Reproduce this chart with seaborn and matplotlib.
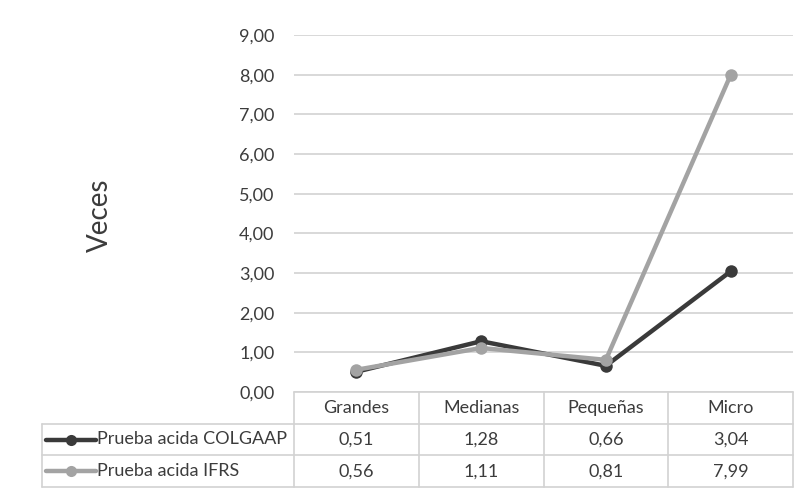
import matplotlib
matplotlib.use("Agg")
import matplotlib.pyplot as plt
import seaborn as sns
import pandas as pd
from matplotlib.ticker import FuncFormatter

categories = ["Grandes", "Medianas", "Pequeñas", "Micro"]
series_names = ["Prueba acida COLGAAP", "Prueba acida IFRS"]
colgaap = [0.51, 1.28, 0.66, 3.04]
ifrs = [0.56, 1.11, 0.81, 7.99]
y_ticks = [0, 1, 2, 3, 4, 5, 6, 7, 8, 9]
colors = ["#3a3a3a", "#a3a3a3"]

sns.set_style("white")
plt.rcParams["font.family"] = ["Lato", "DejaVu Sans"]
TXT = "#3c3c3c"
GRID = "#d2d2d2"

df = pd.DataFrame({
    "cat": categories * 2,
    "value": colgaap + ifrs,
    "series": [series_names[0]] * 4 + [series_names[1]] * 4,
})

W, H = 799, 492
def rect(x0, y0, x1, y1):
    return [x0 / W, 1 - y1 / H, (x1 - x0) / W, (y1 - y0) / H]

fig = plt.figure(figsize=(W / 100, H / 100), dpi=100)
ax = fig.add_axes(rect(294, 35, 793, 392))
sns.lineplot(data=df, x="cat", y="value", hue="series", palette=colors,
             marker="o", markersize=9, markeredgewidth=0, linewidth=3.2,
             sort=False, legend=False, ax=ax)
ax.set_xlim(-0.5, 3.5)
ax.set_ylim(0, 9)
ax.set_yticks(y_ticks)
ax.yaxis.set_major_formatter(FuncFormatter(lambda v, p: f"{v:.2f}".replace(".", ",")))
ax.tick_params(axis="y", length=0, pad=14, labelsize=13, labelcolor=TXT)
ax.set_xticks([])
ax.set_xlabel("")
ax.set_ylabel("")
ax.grid(axis="y", color=GRID, linewidth=1.2)
ax.set_axisbelow(True)
for s in ax.spines.values():
    s.set_visible(False)
fig.text(100 / W, 1 - 215 / H, "Veces", rotation=90, ha="center", va="center",
         fontsize=20, color=TXT)

# data table
axt = fig.add_axes(rect(294, 392, 793, 487))
axt.set_xlim(-0.5, 3.5)
axt.set_ylim(3, 0)
axt.axis("off")
left = -0.5 - (294 - 41) / 125
kw = dict(color=GRID, linewidth=1.2, clip_on=False)
axt.plot([-0.5, 3.5], [0, 0], **kw)
for yy in (1, 2, 3):
    axt.plot([left, 3.5], [yy, yy], **kw)
for xx in (-0.5, 0.5, 1.5, 2.5, 3.5):
    axt.plot([xx, xx], [0, 3], **kw)
axt.plot([left, left], [1, 3], **kw)

for i, c in enumerate(categories):
    axt.text(i, 0.5, c, ha="center", va="center", fontsize=13, color=TXT)
rows = [colgaap, ifrs]
for r, (name, vals, col) in enumerate(zip(series_names, rows, colors)):
    yy = r + 1.5
    for i, v in enumerate(vals):
        axt.text(i, yy, f"{v:.2f}".replace(".", ","), ha="center", va="center",
                 fontsize=13, color=TXT)
    kx0 = left + 5 / 125
    kx1 = left + 55 / 125
    axt.plot([kx0, kx1], [yy, yy], color=col, linewidth=3.2, clip_on=False)
    axt.plot([(kx0 + kx1) / 2], [yy], marker="o", markersize=8, markeredgewidth=0,
             color=col, clip_on=False)
    axt.text(kx1 + 1 / 125, yy, name, ha="left", va="center", fontsize=13, color=TXT)

fig.savefig("out.png", dpi=100)
